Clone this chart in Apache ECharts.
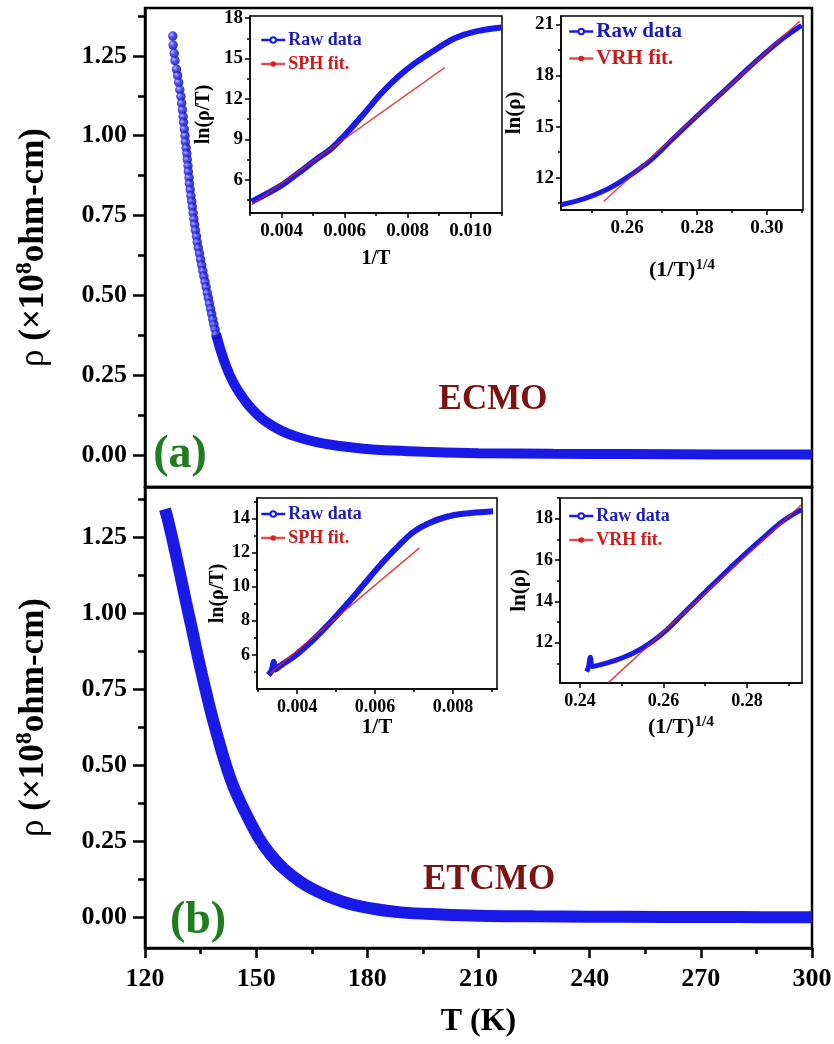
<!DOCTYPE html>
<html>
<head>
<meta charset="utf-8">
<script src="https://cdn.jsdelivr.net/npm/echarts@6/dist/echarts.min.js"></script>
<style>
  html, body { margin: 0; padding: 0; background: #fff; }
  #chart { width: 834px; height: 1044px; }
</style>
</head>
<body>
<div id="chart"></div>
<script>
// ---- main panel (a): ECMO, rho (x1e8 ohm-cm) vs T (K) ----
const ecmoBallT = [127.5,127.6,127.9,128.1,128.5,128.8,129.1,129.4,129.7,129.9,130.1,130.3,130.4,130.6,130.8,130.9,131.1,131.3,131.4,131.6,131.7,131.9,132.0,132.2,132.4,132.6,132.8,133.0,133.2,133.4,133.6,133.9,134.1,134.4,134.7,135.0,135.3,135.6,135.9,136.2,136.5,136.8,137.1,137.4,137.7,138.0,138.3,138.6,138.9,139.2]
const ecmoBallRho = [1.312,1.284,1.258,1.235,1.208,1.188,1.167,1.144,1.123,1.102,1.081,1.060,1.042,1.021,1.000,0.981,0.962,0.944,0.925,0.906,0.888,0.869,0.850,0.831,0.812,0.795,0.777,0.758,0.740,0.722,0.704,0.685,0.667,0.649,0.631,0.612,0.595,0.577,0.560,0.543,0.526,0.508,0.492,0.475,0.458,0.442,0.425,0.409,0.394,0.378]
const ecmoTailT = [139.2,140.5,142,143.8,145.8,148,150.5,153.5,157,161,166,172,179,187,196,210,230,250,275,300]
const ecmoTailRho = [0.378,0.325,0.275,0.228,0.19,0.155,0.125,0.098,0.075,0.057,0.041,0.029,0.020,0.014,0.010,0.006,0.004,0.003,0.002,0.0015]

// ---- main panel (b): ETCMO ----
const etcmoT = [125.4,126.3,128.1,129.7,131.1,132.8,134.4,136.2,138.0,139.8,141.6,143.4,145.3,147.8,150.7,154.0,157.5,162,166.5,171,175.5,182,189,200,210,225,240,260,280,300]
const etcmoRho = [1.341,1.30,1.205,1.115,1.035,0.94,0.85,0.755,0.665,0.585,0.51,0.445,0.39,0.328,0.262,0.205,0.16,0.117,0.086,0.062,0.044,0.028,0.017,0.010,0.006,0.004,0.003,0.002,0.0015,0.001]

// ---- inset a1: ln(rho/T) vs 1/T, SPH ----
const sphAx = [0.00305,0.0040,0.00453,0.00506,0.00559,0.00612,0.00665,0.00717,0.0077,0.00823,0.00887,0.0095,0.01014,0.01098]
const sphAraw = [4.39,5.6,6.5,7.45,8.35,9.6,11.0,12.42,13.65,14.64,15.63,16.5,16.99,17.3]
const sphAfitX = [0.00305,0.00918]
const sphAfitY = [4.15,14.32]

// ---- inset a2: ln(rho) vs (1/T)^1/4, VRH ----
const vrhAx = [0.2412,0.2476,0.2542,0.2599,0.2666,0.2732,0.2809,0.2885,0.2961,0.3037,0.3099]
const vrhAraw = [10.41,10.75,11.3,12.0,13.0,14.3,15.8,17.25,18.7,20.05,20.95]
const vrhAfitX = [0.2533,0.3094]
const vrhAfitY = [10.6,21.2]

// ---- inset b1 ----
const sphBx = [0.00326,0.00335,0.0034,0.00345,0.00356,0.004,0.00442,0.00485,0.00527,0.0057,0.00613,0.00656,0.00698,0.00741,0.00784,0.00826,0.00903]
const sphBraw = [4.82,5.1,5.6,5.15,5.35,6.05,6.9,7.9,8.95,10.1,11.25,12.3,13.2,13.75,14.1,14.28,14.43]
const sphBfitX = [0.00331,0.00714]
const sphBfitY = [4.92,12.28]

// ---- inset b2 ----
const vrhBx = [0.2416,0.242,0.2425,0.243,0.2448,0.2488,0.2528,0.2568,0.2608,0.2647,0.2687,0.2727,0.2767,0.2807,0.2847,0.2887,0.2931]
const vrhBraw = [10.6,10.8,11.3,10.85,10.93,11.17,11.5,11.98,12.62,13.4,14.2,14.98,15.75,16.5,17.22,17.9,18.44]
const vrhBfitX = [0.2468,0.2931]
const vrhBfitY = [10.07,18.68]

// ---- tick values ----
const mainXTicks = [120, 150, 180, 210, 240, 270, 300]
const mainXMinor = [135, 165, 195, 225, 255, 285]
const mainYTicks = [0, 0.25, 0.5, 0.75, 1.0, 1.25]
const mainYMinor = [0.125, 0.375, 0.625, 0.875, 1.125, 1.375]
const a1XTicks = [0.004, 0.006, 0.008, 0.010]
const a1XMinor = [0.003, 0.005, 0.007, 0.009, 0.011]
const a1YTicks = [6, 9, 12, 15, 18]
const a1YMinor = [4.5, 7.5, 10.5, 13.5, 16.5]
const a2XTicks = [0.26, 0.28, 0.30]
const a2XMinor = [0.25, 0.27, 0.29, 0.31]
const a2YTicks = [12, 15, 18, 21]
const a2YMinor = [10.5, 13.5, 16.5, 19.5]
const b1XTicks = [0.004, 0.006, 0.008]
const b1XMinor = [0.003, 0.005, 0.007, 0.009]
const b1YTicks = [6, 8, 10, 12, 14]
const b1YMinor = [5, 7, 9, 11, 13, 15]
const b2XTicks = [0.24, 0.26, 0.28]
const b2XMinor = [0.25, 0.27, 0.29]
const b2YTicks = [12, 14, 16, 18]
const b2YMinor = [11, 13, 15, 17, 19]

const FONT = '"Liberation Serif", "Times New Roman", serif'
const BLUE = '#1a1ae8'
const RED = '#d82020'

const pairs = (xs, ys) => xs.map((x, i) => [x, ys[i]])

// major axis + a second axis on the same side that only draws the minor ticks
function axisPair(grid, min, max, major, minor, o) {
  const base = { type: 'value', gridIndex: grid, min: min, max: max, position: o.position, z: o.z || 2, splitLine: { show: false } }
  const main = Object.assign({}, base, {
    axisLine: { show: true, onZero: false, lineStyle: { color: '#000', width: o.lw } },
    axisTick: { show: major.length > 0, customValues: major, length: o.tl, lineStyle: { color: '#000', width: o.lw } },
    axisLabel: { show: !!o.fs, customValues: major, formatter: o.fmt, margin: o.margin, fontSize: o.fs, fontWeight: 'bold', fontFamily: FONT, color: '#000' },
    name: o.name || '',
    nameLocation: 'middle',
    nameGap: o.nameGap,
    nameRotate: o.nameRotate,
    nameTextStyle: o.nameStyle
  })
  const sub = Object.assign({}, base, {
    axisLine: { show: false, onZero: false },
    axisTick: { show: minor.length > 0, customValues: minor, length: o.mtl, lineStyle: { color: '#000', width: o.lw } },
    axisLabel: { show: false }
  })
  return [main, sub]
}

const insetName = (size) => ({ fontSize: size, fontWeight: 'bold', fontFamily: FONT, color: '#000',
  rich: { s: { fontSize: size * 0.7, fontWeight: 'bold', fontFamily: FONT, verticalAlign: 'top', padding: [0, 0, 10, 0] } } })
const mainYName = {
  fontSize: 35, fontWeight: 'bold', fontFamily: FONT, color: '#000',
  rich: {
    r: { fontSize: 35, fontWeight: 'normal', fontFamily: FONT },
    b: { fontSize: 35, fontWeight: 'bold', fontFamily: FONT },
    s: { fontSize: 24, fontWeight: 'bold', fontFamily: FONT, padding: [0, 0, 18, 0] }
  }
}
const yMainLabel = '{r|ρ} {b|(×10}{s|8}{b|ohm-cm)}'

const fmt2 = v => v.toFixed(2)
const fmt3 = v => v.toFixed(3)

const xAxes = [].concat(
  axisPair(0, 120, 300, [], [], { position: 'bottom', lw: 2.5 }),
  axisPair(1, 120, 300, mainXTicks, mainXMinor, {
    position: 'bottom', lw: 2.5, tl: 10, mtl: 6, fs: 26, margin: 18,
    name: 'T (K)', nameGap: 58, nameStyle: { fontSize: 32, fontWeight: 'bold', fontFamily: FONT, color: '#000' }
  }),
  axisPair(2, 0.003, 0.011, a1XTicks, a1XMinor, { position: 'bottom', lw: 1.5, tl: 5, mtl: 3, fs: 19, margin: 9, fmt: fmt3, z: 6,
    name: '1/T', nameGap: 36, nameStyle: insetName(20) }),
  axisPair(3, 0.2411, 0.3103, a2XTicks, a2XMinor, { position: 'bottom', lw: 1.5, tl: 5, mtl: 3, fs: 19, margin: 9, fmt: fmt2, z: 6,
    name: '(1/T){s|1/4}', nameGap: 48, nameStyle: insetName(22) }),
  axisPair(4, 0.00297, 0.00913, b1XTicks, b1XMinor, { position: 'bottom', lw: 1.5, tl: 5, mtl: 3, fs: 18, margin: 9, fmt: fmt3, z: 6,
    name: '1/T', nameGap: 24, nameStyle: insetName(21) }),
  axisPair(5, 0.2352, 0.2932, b2XTicks, b2XMinor, { position: 'bottom', lw: 1.5, tl: 5, mtl: 3, fs: 18, margin: 9, fmt: fmt2, z: 6,
    name: '(1/T){s|1/4}', nameGap: 32, nameStyle: insetName(22) })
)

const yAxes = [].concat(
  axisPair(0, -0.1, 1.4, mainYTicks, mainYMinor, { position: 'left', lw: 2.5, tl: 12, mtl: 7, fs: 26, margin: 18, fmt: fmt2,
    name: yMainLabel, nameGap: 90, nameRotate: 90, nameStyle: mainYName }),
  axisPair(1, -0.1, 1.414, mainYTicks, mainYMinor, { position: 'left', lw: 2.5, tl: 12, mtl: 7, fs: 26, margin: 18, fmt: fmt2,
    name: yMainLabel, nameGap: 90, nameRotate: 90, nameStyle: mainYName }),
  axisPair(2, 3.55, 18.15, a1YTicks, a1YMinor, { position: 'left', lw: 1.5, tl: 5, mtl: 3, fs: 19, margin: 7, z: 6,
    name: 'ln(ρ/T)', nameGap: 36, nameRotate: 90, nameStyle: insetName(20) }),
  axisPair(3, 10.1, 21.5, a2YTicks, a2YMinor, { position: 'left', lw: 1.5, tl: 5, mtl: 3, fs: 19, margin: 7, z: 6,
    name: 'ln(ρ)', nameGap: 36, nameRotate: 90, nameStyle: insetName(21) }),
  axisPair(4, 4.0, 15.2, b1YTicks, b1YMinor, { position: 'left', lw: 1.5, tl: 5, mtl: 3, fs: 18, margin: 7, z: 6,
    name: 'ln(ρ/T)', nameGap: 28, nameRotate: 90, nameStyle: insetName(20) }),
  axisPair(5, 10.05, 19.0, b2YTicks, b2YMinor, { position: 'left', lw: 1.5, tl: 5, mtl: 3, fs: 18, margin: 7, z: 6,
    name: 'ln(ρ)', nameGap: 30, nameRotate: 90, nameStyle: insetName(21) })
)

const frame = (left, top, width, height, bw, z) => ({
  left: left, top: top, width: width, height: height, show: true,
  borderColor: '#000', borderWidth: bw, backgroundColor: '#fff', z: z, outerBoundsMode: 'none'
})

const ball = {
  type: 'radial', x: 0.35, y: 0.35, r: 0.7,
  colorStops: [
    { offset: 0, color: '#b0b0ff' },
    { offset: 0.4, color: '#2424ee' },
    { offset: 1, color: '#00009a' }
  ]
}

// g = grid index of the inset (its main axes are 2*g)
function rawSeries(g, xs, ys, width) {
  return {
    name: 'Raw data', type: 'line', xAxisIndex: 2 * g, yAxisIndex: 2 * g, z: 7,
    data: pairs(xs, ys), smooth: 0.35, symbol: 'emptyCircle', symbolSize: 5, showSymbol: false,
    lineStyle: { color: BLUE, width: width }, itemStyle: { color: BLUE }
  }
}
function fitSeries(g, name, xs, ys) {
  return {
    name: name, type: 'line', xAxisIndex: 2 * g, yAxisIndex: 2 * g, z: 8,
    data: pairs(xs, ys), symbol: 'none',
    lineStyle: { color: RED, width: 1.6, opacity: 0.8 }, itemStyle: { color: RED }
  }
}
function legendAt(left, top, fit, size) {
  return {
    orient: 'vertical', left: left, top: top, itemGap: 6, itemWidth: 24, itemHeight: 7,
    selectedMode: false, z: 10, padding: 0,
    lineStyle: { width: 2.5 },
    textStyle: { fontSize: size, fontWeight: 'bold', fontFamily: FONT, padding: [0, 0, 0, -2] },
    data: [
      { name: 'Raw data', textStyle: { color: '#1a1ab8' } },
      { name: fit, textStyle: { color: '#cc1a1a' } }
    ]
  }
}

const option = {
  animation: false,
  backgroundColor: '#fff',
  grid: [
    frame(145, 8, 667, 479, 2.5, 0),
    frame(145, 487, 667, 461, 2.5, 0),
    frame(250, 16, 252, 197, 1.5, 5),
    frame(561, 16, 242, 194, 1.5, 5),
    frame(257, 498, 240, 191, 1.5, 5),
    frame(560, 498, 242, 185, 1.5, 5)
  ],
  xAxis: xAxes,
  yAxis: yAxes,
  legend: [
    legendAt(260, 31, 'SPH fit.', 18),
    legendAt(568, 21, 'VRH fit.', 21),
    legendAt(260, 505, 'SPH fit.', 18),
    legendAt(568, 507, 'VRH fit.', 18)
  ],
  graphic: [
    { type: 'text', x: 493, y: 400, z: 20, style: { text: 'ECMO', font: 'bold 35px ' + FONT, fill: '#7d1212', align: 'center', verticalAlign: 'middle' } },
    { type: 'text', x: 489, y: 880, z: 20, style: { text: 'ETCMO', font: 'bold 35px ' + FONT, fill: '#7d1212', align: 'center', verticalAlign: 'middle' } },
    { type: 'text', x: 180, y: 455, z: 20, style: { text: '(a)', font: 'bold 46px ' + FONT, fill: '#1f7d1f', align: 'center', verticalAlign: 'middle' } },
    { type: 'text', x: 198, y: 921, z: 20, style: { text: '(b)', font: 'bold 46px ' + FONT, fill: '#1f7d1f', align: 'center', verticalAlign: 'middle' } }
  ],
  series: [
    {
      name: 'ECMO tail', type: 'line', xAxisIndex: 0, yAxisIndex: 0, z: 3,
      data: pairs(ecmoTailT, ecmoTailRho), smooth: 0.4, symbol: 'none',
      lineStyle: { color: BLUE, width: 10, cap: 'butt' }
    },
    {
      name: 'ECMO', type: 'scatter', xAxisIndex: 0, yAxisIndex: 0, z: 4,
      data: pairs(ecmoBallT, ecmoBallRho), symbolSize: 9.5,
      itemStyle: { color: ball }
    },
    {
      name: 'ETCMO', type: 'line', xAxisIndex: 2, yAxisIndex: 2, z: 3,
      data: pairs(etcmoT, etcmoRho), smooth: 0.4, symbol: 'none',
      lineStyle: { color: BLUE, width: 12, cap: 'butt' }
    },
    rawSeries(2, sphAx, sphAraw, 6),
    fitSeries(2, 'SPH fit.', sphAfitX, sphAfitY),
    rawSeries(3, vrhAx, vrhAraw, 5),
    fitSeries(3, 'VRH fit.', vrhAfitX, vrhAfitY),
    rawSeries(4, sphBx, sphBraw, 6),
    fitSeries(4, 'SPH fit.', sphBfitX, sphBfitY),
    rawSeries(5, vrhBx, vrhBraw, 5),
    fitSeries(5, 'VRH fit.', vrhBfitX, vrhBfitY)
  ]
}

const chart = echarts.init(document.getElementById('chart'))
chart.setOption(option)
</script>
</body>
</html>
